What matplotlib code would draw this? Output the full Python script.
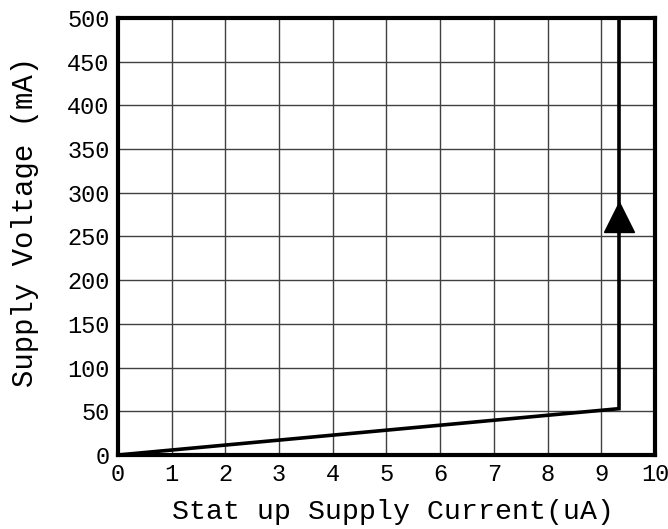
import numpy as np
import matplotlib
matplotlib.use("Agg")
import matplotlib.pyplot as plt

# curve points (current uA, voltage)
cur = [0.0, 9.33, 9.33]
volt = [0.0, 53.0, 500.0]

# arrow on vertical segment
arr_x = 9.33
arr_y = 272.0

xticks = list(range(0, 11))
yticks = list(range(0, 501, 50))

plt.rcParams['font.family'] = ['Liberation Mono', 'DejaVu Sans Mono']

fig = plt.figure(figsize=(6.68, 5.29), dpi=100)
ax = fig.add_axes([0.1766, 0.1399, 0.9805 - 0.1766, 0.966 - 0.1399])

ax.plot(cur, volt, color='black', lw=2.6, solid_joinstyle='miter', zorder=3)
ax.plot([arr_x], [arr_y], marker='^', color='black', markersize=22, zorder=4)

ax.set_xlim(0, 10)
ax.set_ylim(0, 500)
ax.set_xticks(xticks)
ax.set_yticks(yticks)
ax.tick_params(length=0, labelsize=17, pad=6)
ax.grid(True, color='#404040', lw=1.0)
for s in ax.spines.values():
    s.set_linewidth(3)
    s.set_zorder(5)

# axis titles placed by hand (figure fractions)
fig.text(393 / 668, 1 - 512 / 529, 'Stat up Supply Current(uA)', fontsize=20.3,
         ha='center', va='center')
fig.text(25 / 668, 1 - 222 / 529, 'Supply Voltage (mA)', fontsize=20.9,
         ha='center', va='center', rotation=90)

fig.savefig('out.png', dpi=100)
